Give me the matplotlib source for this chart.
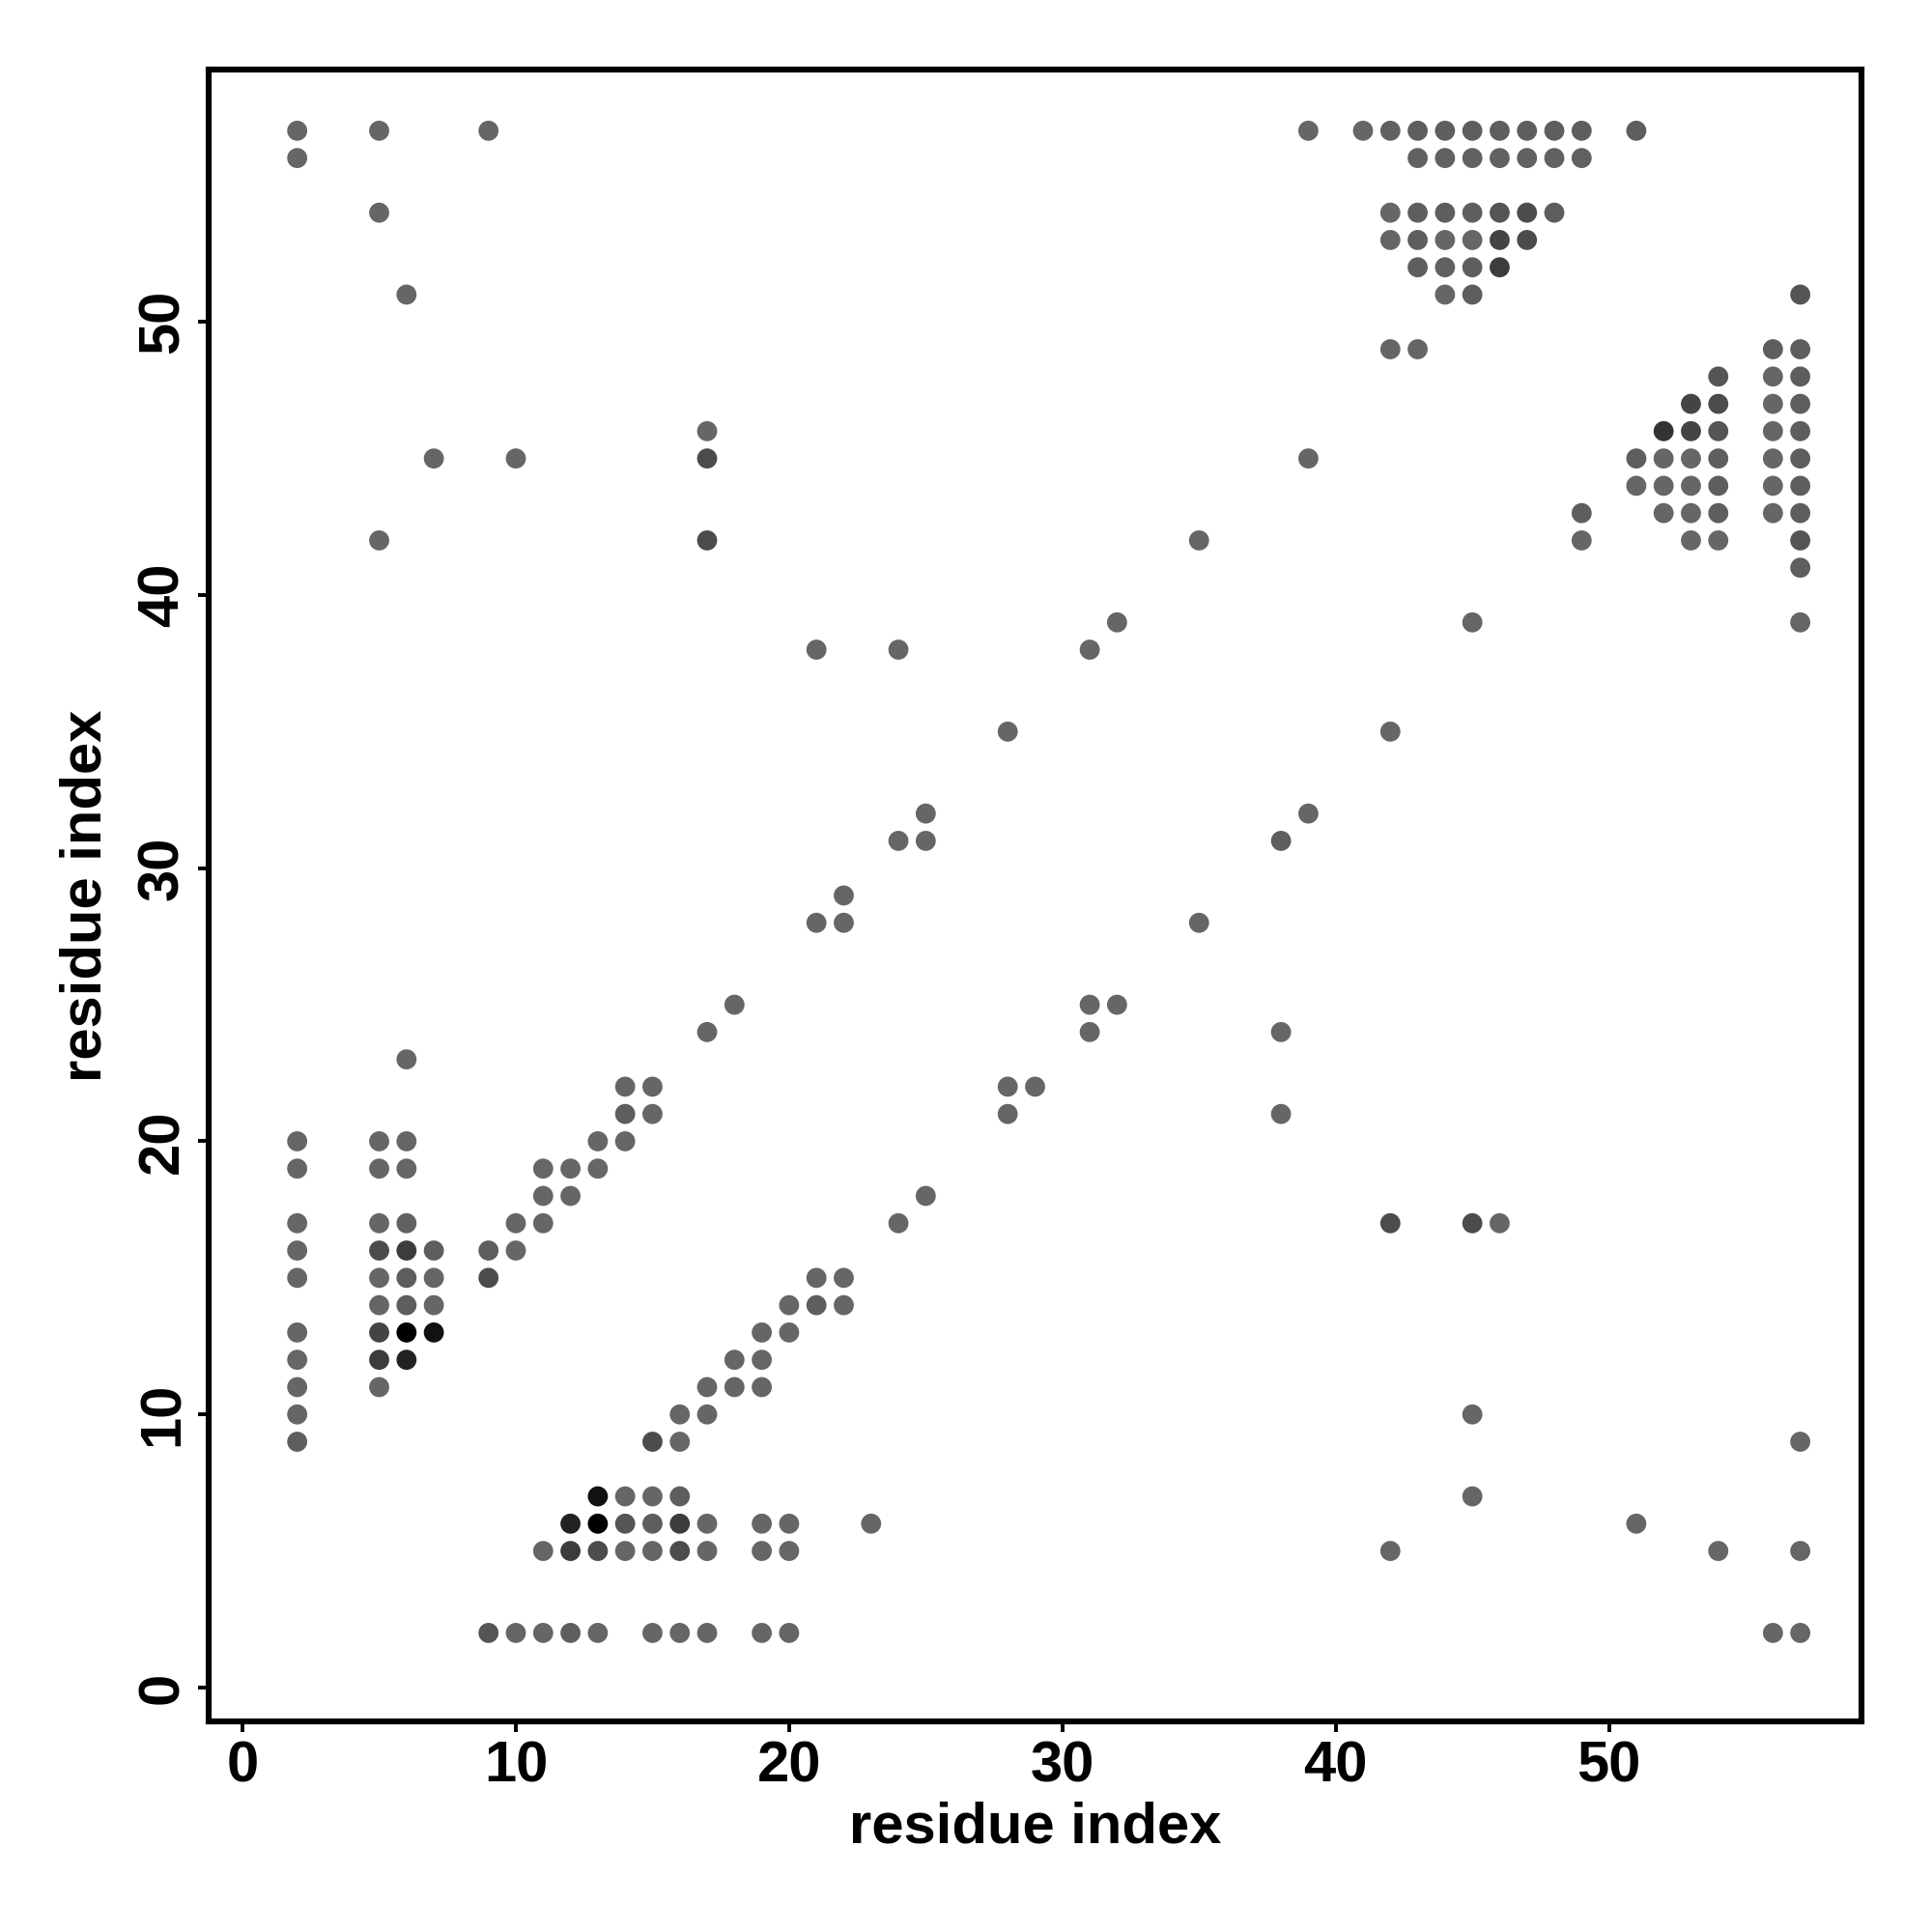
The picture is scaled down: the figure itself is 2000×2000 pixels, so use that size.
import matplotlib
matplotlib.use("Agg")
import matplotlib.pyplot as plt
from matplotlib.colors import LinearSegmentedColormap

plt.rcParams['font.family'] = ['Liberation Sans', 'DejaVu Sans']
plt.rcParams['font.weight'] = 'bold'

# contact map: (residue i, residue j, how many models share the contact)
res_i = []
res_j = []
n_models = []

def row(j, pts):
    for p in pts:
        if isinstance(p, tuple):
            x, n = p
        else:
            x, n = p, 1
        res_i.append(x)
        res_j.append(j)
        n_models.append(n)

row(57, [2, 5, 9, 39, 41, (42, 1.3), (43, 1.5), (44, 1.5), (45, 1.5), (46, 1.5), (47, 1.5), (48, 1.5), (49, 1.5), (51, 1.5)])
row(56, [2, (43, 1.3), (44, 1.3), (45, 1.3), (46, 1.3), (47, 1.3), (48, 1.3), (49, 1.3)])
row(54, [5, 42, (43, 1.5), (44, 1.5), (45, 1.5), (46, 2), (47, 2.5), (48, 1.5)])
row(53, [42, (43, 1.5), 44, 45, (46, 3), (47, 2.5)])
row(52, [(43, 1.5), (44, 1.3), (45, 1.5), (46, 3.5)])
row(51, [6, 44, (45, 1.5), (57, 2)])
row(49, [42, 43, (56, 1.5), (57, 1.5)])
row(48, [(54, 2), 56, (57, 1.5)])
row(47, [(53, 3), (54, 2.5), 56, (57, 1.5)])
row(46, [17, (52, 4), (53, 3), (54, 2), 56, (57, 1.5)])
row(45, [7, 10, (17, 2.5), 39, (51, 1.5), 52, 53, (54, 1.5), 56, (57, 1.5)])
row(44, [51, 52, 53, (54, 1.5), 56, (57, 1.5)])
row(43, [(49, 1.5), 52, 53, (54, 1.5), 56, (57, 1.5)])
row(42, [5, (17, 2.5), 35, 49, 53, 54, (57, 2)])
row(41, [(57, 1.5)])
row(39, [32, 45, 57])
row(38, [21, 24, 31])
row(35, [28, 42])
row(32, [25, 39])
row(31, [24, 25, (38, 1.5)])
row(29, [22])
row(28, [21, 22, 35])
row(25, [18, 31, 32])
row(24, [17, 31, 38])
row(23, [6])
row(22, [14, 15, 28, 29])
row(21, [(14, 1.5), 15, 28, 38])
row(20, [2, 5, 6, 13, 14])
row(19, [2, 5, 6, 11, 12, 13])
row(18, [11, 12, 25])
row(17, [2, 5, (6, 1.3), 10, 11, 24, (42, 2.5), (45, 2.5), 46])
row(16, [2, (5, 2.5), (6, 3.5), (7, 1.5), (9, 1.5), 10])
row(15, [2, 5, (6, 1.5), 7, (9, 2.5), 21, 22])
row(14, [5, (6, 1.5), 7, 20, (21, 1.5), 22])
row(13, [2, (5, 3), (6, 7), (7, 6), 19, 20])
row(12, [2, (5, 3.5), (6, 5), 18, 19])
row(11, [2, 5, 17, 18, 19])
row(10, [2, 16, 17, 45])
row(9, [(2, 1.5), (15, 2.5), 16, 57])
row(7, [(13, 6), 14, 15, (16, 1.5), 45])
row(6, [(12, 5), (13, 7), (14, 2), (15, 1.5), (16, 3.5), 17, 19, 20, 23, 51])
row(5, [11, (12, 3.5), (13, 2.5), 14, 15, (16, 2.5), 17, 19, 20, 42, 54, 57])
row(2, [(9, 2), 10, 11, (12, 1.5), 13, 15, 16, 17, 19, 20, 56, 57])

ticks = [0, 10, 20, 30, 40, 50]

fig = plt.figure(figsize=(10, 10), dpi=200)
ax = fig.add_axes([0.108, 0.109, 0.8555, 0.855])

grey = LinearSegmentedColormap.from_list('grey', ['#666666', '#000000'])
ax.scatter(res_i, res_j, c=n_models, cmap=grey, vmin=1, vmax=7, s=56, linewidths=0)

ax.set_xlim(-1.24, 59.24)
ax.set_ylim(-1.24, 59.24)
ax.set_xticks(ticks)
ax.set_yticks(ticks)
ax.tick_params(length=4, width=1.4, labelsize=21.5, pad=3)
for lab in ax.get_yticklabels():
    lab.set_rotation(90)
    lab.set_va('center')
for sp in ax.spines.values():
    sp.set_linewidth(2.2)

ax.set_xlabel('residue index', fontsize=21.5, fontweight='bold', labelpad=3)
ax.set_ylabel('residue index', fontsize=21.5, fontweight='bold', labelpad=9)

fig.savefig('out.png', dpi=200)
